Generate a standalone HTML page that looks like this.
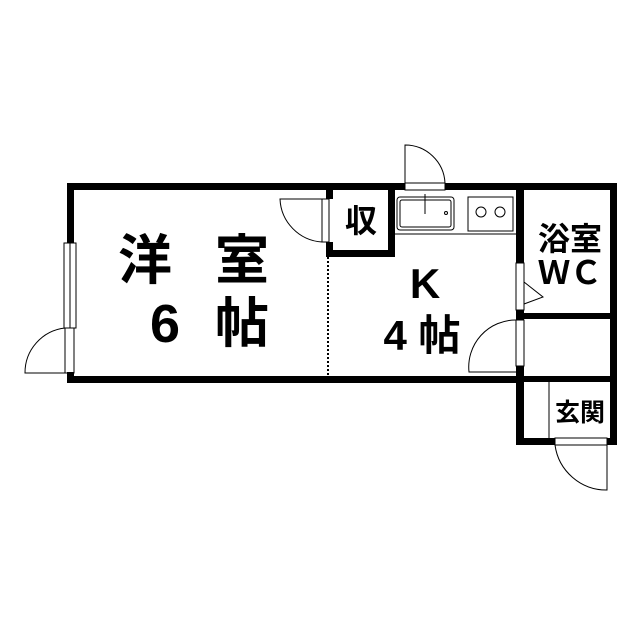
<!DOCTYPE html><html><head><style>body{margin:0;background:#fff}svg{display:block}text{font-family:"Liberation Sans","Noto Sans CJK JP",sans-serif;fill:#000;font-weight:bold}</style></head><body>
<svg width="640" height="640" viewBox="0 0 640 640">
<g fill="#000">
<rect x="67" y="183" width="550" height="7"/>
<rect x="67" y="183" width="7" height="60"/>
<rect x="67" y="372" width="7" height="11"/>
<rect x="67" y="376" width="456" height="7"/>
<rect x="610" y="183" width="7" height="262"/>
<rect x="516" y="183" width="8" height="80"/>
<rect x="516" y="310" width="8" height="10"/>
<rect x="516" y="366" width="8" height="79"/>
<rect x="516" y="438" width="101" height="7"/>
<rect x="516" y="313" width="101" height="6"/>
<rect x="516" y="376" width="101" height="6"/>
<rect x="326" y="183" width="7" height="74"/>
<rect x="326" y="250" width="69" height="7"/>
<rect x="388" y="183" width="7" height="74"/>
</g>
<rect x="405" y="183" width="40" height="7" fill="#fff"/>
<rect x="555" y="438" width="52" height="7" fill="#fff"/>
<rect x="326" y="199" width="7" height="43" fill="#fff"/>
<g fill="none" stroke="#000" stroke-width="1">
<rect x="64" y="243" width="12" height="85"/><line x1="70" y1="243" x2="70" y2="328"/>
<rect x="65" y="328" width="9" height="45"/><path d="M65 328 A45 45 0 0 0 25 373 L65 373"/>
<rect x="405" y="183" width="40" height="7"/><path d="M405 183 L405 145 A40 40 0 0 1 445 183"/>
<rect x="555" y="438" width="52" height="7"/><path d="M607 445 L607 490 A52 52 0 0 1 555 445"/>
<rect x="322" y="199" width="7" height="43"/><path d="M322 242 A45 45 0 0 1 280 199 L322 199"/>
<rect x="516" y="263" width="8" height="47"/><path d="M524 282 L543 297 L524 304"/>
<rect x="516" y="320" width="8" height="46"/><path d="M516 320 A47 47 0 0 0 469 372 L516 372"/>
<line x1="549" y1="382" x2="549" y2="438"/>
<line x1="395" y1="234" x2="516" y2="234"/>
<rect x="397" y="197" width="57" height="33" rx="3"/><rect x="400" y="200" width="51" height="27" rx="2"/>
<line x1="425" y1="194" x2="425" y2="214"/><circle cx="446" cy="213" r="1.5"/>
<rect x="468" y="197" width="45" height="34"/>
<circle cx="481" cy="212" r="5"/><circle cx="500" cy="212" r="5"/>
</g>
<line x1="328" y1="257" x2="328" y2="376" stroke="#000" stroke-width="2" stroke-dasharray="2,2"/>
<text x="145" y="279" font-size="54" text-anchor="middle">洋</text>
<text x="242" y="279" font-size="54" text-anchor="middle">室</text>
<text x="165" y="342" font-size="54" text-anchor="middle">6</text>
<text x="242" y="342" font-size="54" text-anchor="middle">帖</text>
<text x="361" y="232" font-size="32" text-anchor="middle">収</text>
<text x="425" y="298" font-size="42" text-anchor="middle">K</text>
<text x="422" y="350" font-size="42" text-anchor="middle">4 帖</text>
<text x="570" y="250" font-size="32" text-anchor="middle">浴室</text>
<text x="570" y="284" font-size="32" text-anchor="middle">ＷＣ</text>
<text x="580" y="421" font-size="25" text-anchor="middle">玄関</text>
</svg></body></html>
